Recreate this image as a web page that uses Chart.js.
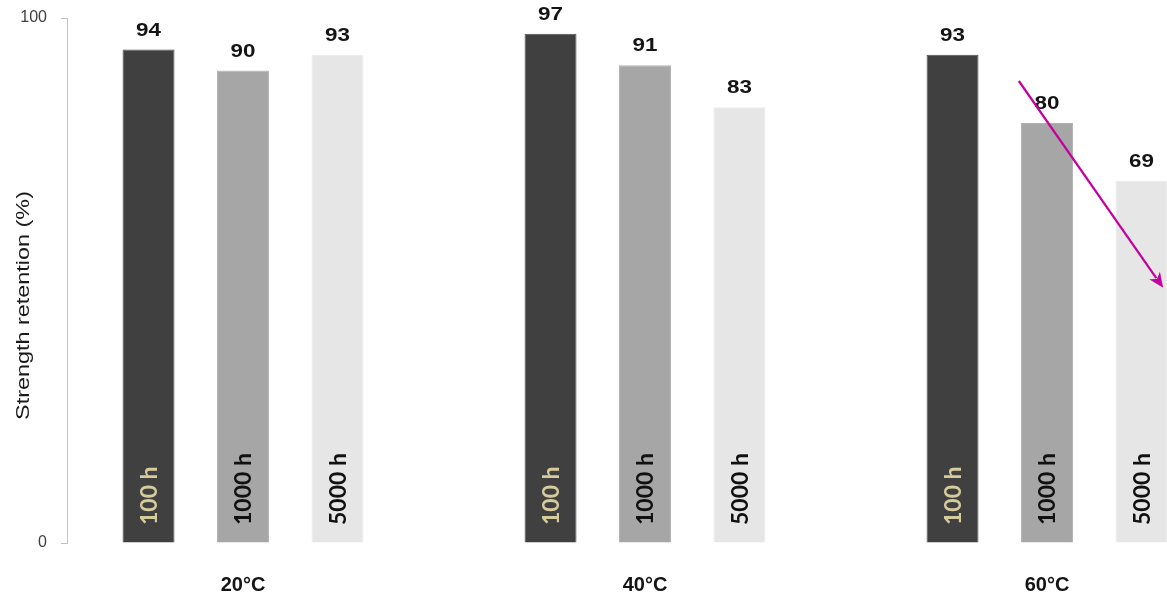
<!DOCTYPE html>
<html>
<head>
<meta charset="utf-8">
<script src="https://cdn.jsdelivr.net/npm/chart.js@4.4.1/dist/chart.umd.min.js"></script>
<style>
  html, body { margin: 0; padding: 0; background: #ffffff; }
  #wrap { width: 1167px; height: 599px; position: relative; }
</style>
</head>
<body>
<div id="wrap"><canvas id="chart"></canvas></div>
<script>
// Exposure temperatures (groups) and exposure durations (series)
const temperatures = ['20°C', '40°C', '60°C'];
const durations = ['100 h', '1000 h', '5000 h'];

// Strength retention in percent, one value per temperature
const retention100h = [94, 97, 93];
const retention1000h = [90, 91, 80];
const retention5000h = [93, 83, 69];

const yTicks = [0, 100];
const yTitle = 'Strength retention (%)';

// Downward trend arrow over the 60°C group, in axis units (x: group index, y: %)
const trendArrowFrom = { x: 1.93, y: 88 };
const trendArrowTo = { x: 2.289, y: 48.6 };

const barColors = ['#404040', '#a6a6a6', '#e6e6e6'];
const barEdges = ['#4d4d4d', '#b3b3b3', '#ececec'];
const seriesTextColors = ['#d6cb9c', '#111111', '#111111'];
const SANS = '"Liberation Sans", Arial, Helvetica, sans-serif';

const seriesValues = [retention100h, retention1000h, retention5000h];

const datasets = durations.map((label, di) => ({
  label: label,
  data: seriesValues[di].map((v, i) => ({ x: i, y: v })),
  backgroundColor: barColors[di],
  borderColor: barEdges[di],
  borderWidth: 1,
  borderSkipped: 'bottom'
}));

// Values over the bars, duration names inside the bars, axis title and trend arrow
const barAnnotations = {
  id: 'barAnnotations',
  afterDatasetsDraw(chart) {
    const ctx = chart.ctx;
    const xs = chart.scales.x;
    const ys = chart.scales.y;
    const base = ys.getPixelForValue(0);

    chart.data.datasets.forEach((ds, di) => {
      const meta = chart.getDatasetMeta(di);
      meta.data.forEach((bar, i) => {
        const value = ds.data[i].y;

        ctx.save();
        ctx.translate(bar.x, bar.y - 14);
        ctx.scale(1.18, 1);
        ctx.fillStyle = '#141414';
        ctx.font = 'bold 19px ' + SANS;
        ctx.textAlign = 'center';
        ctx.textBaseline = 'alphabetic';
        ctx.fillText(String(value), 0, 0);
        ctx.restore();

        ctx.save();
        ctx.translate(bar.x + 1, base - 18);
        ctx.rotate(-Math.PI / 2);
        ctx.font = 'bold 23px Lato, "Open Sans", sans-serif';
        ctx.textAlign = 'left';
        ctx.textBaseline = 'middle';
        ctx.fillStyle = seriesTextColors[di];
        ctx.fillText(ds.label, 0, 0);
        ctx.restore();
      });
    });

    // y-axis title
    ctx.save();
    ctx.translate(24, (chart.chartArea.top + chart.chartArea.bottom) / 2 + 25);
    ctx.rotate(-Math.PI / 2);
    ctx.scale(1.3, 1);
    ctx.font = '18px ' + SANS;
    ctx.fillStyle = '#1a1a1a';
    ctx.textAlign = 'center';
    ctx.textBaseline = 'middle';
    ctx.fillText(yTitle, 0, 0);
    ctx.restore();

    // trend arrow
    const x0 = xs.getPixelForValue(trendArrowFrom.x);
    const y0 = ys.getPixelForValue(trendArrowFrom.y);
    const x1 = xs.getPixelForValue(trendArrowTo.x);
    const y1 = ys.getPixelForValue(trendArrowTo.y);
    const ang = Math.atan2(y1 - y0, x1 - x0);
    const head = 15, half = 6.5;
    ctx.save();
    ctx.strokeStyle = '#c4009f';
    ctx.fillStyle = '#c4009f';
    ctx.lineWidth = 2.2;
    ctx.beginPath();
    ctx.moveTo(x0, y0);
    ctx.lineTo(x1 - Math.cos(ang) * head * 0.8, y1 - Math.sin(ang) * head * 0.8);
    ctx.stroke();
    ctx.beginPath();
    ctx.moveTo(x1, y1);
    ctx.lineTo(x1 - Math.cos(ang) * head - Math.sin(ang) * half, y1 - Math.sin(ang) * head + Math.cos(ang) * half);
    ctx.lineTo(x1 - Math.cos(ang) * head * 0.72, y1 - Math.sin(ang) * head * 0.72);
    ctx.lineTo(x1 - Math.cos(ang) * head + Math.sin(ang) * half, y1 - Math.sin(ang) * head - Math.cos(ang) * half);
    ctx.closePath();
    ctx.fill();
    ctx.restore();
  }
};

new Chart(document.getElementById('chart'), {
  type: 'bar',
  data: { datasets: datasets },
  plugins: [barAnnotations],
  options: {
    responsive: true,
    maintainAspectRatio: false,
    animation: false,
    layout: { padding: { left: 20, top: 18, right: 0, bottom: 0 } },
    plugins: {
      legend: { display: false },
      tooltip: { enabled: false }
    },
    datasets: {
      bar: { categoryPercentage: 0.705, barPercentage: 0.55 }
    },
    scales: {
      x: {
        type: 'linear',
        offset: false,
        min: -0.4378,
        max: 2.2985,
        afterBuildTicks: (scale) => { scale.ticks = temperatures.map((_, i) => ({ value: i })); },
        afterFit: (scale) => {
          scale.height = 56;
          scale.paddingLeft = 0;
          scale.paddingRight = 0;
        },
        grid: { display: false, drawTicks: false },
        border: { display: false },
        ticks: {
          padding: 30,
          autoSkip: false,
          maxRotation: 0,
          color: '#141414',
          font: { family: SANS, size: 20, weight: 'bold' },
          callback: (v) => temperatures[v] ?? ''
        }
      },
      y: {
        min: 0,
        max: 100,
        afterBuildTicks: (scale) => { scale.ticks = yTicks.map(v => ({ value: v })); },
        afterFit: (scale) => {
          scale.width = 47;
          scale.paddingTop = 0;
          scale.paddingBottom = 0;
        },
        grid: { drawOnChartArea: false, drawTicks: true, tickLength: 6, color: '#c4c4c4' },
        border: { display: true, color: '#c4c4c4', width: 1 },
        ticks: {
          padding: 14,
          color: '#404040',
          font: { family: SANS, size: 16 }
        }
      }
    }
  }
});
</script>
</body>
</html>
